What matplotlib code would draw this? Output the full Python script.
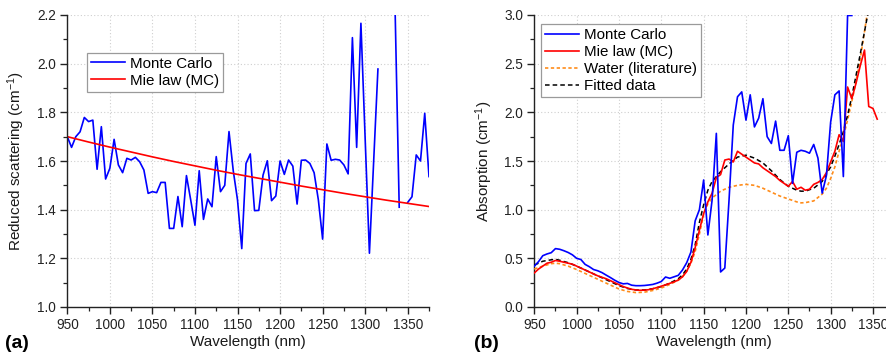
import numpy as np
import matplotlib
matplotlib.use("Agg")
import matplotlib.pyplot as plt
from matplotlib.ticker import MultipleLocator, FormatStrFormatter

plt.rcParams['font.family'] = ['Liberation Sans', 'DejaVu Sans']
plt.rcParams['mathtext.fontset'] = 'custom'
plt.rcParams['mathtext.rm'] = 'Liberation Sans'
plt.rcParams['mathtext.it'] = 'Liberation Sans'
plt.rcParams['mathtext.bf'] = 'Liberation Sans:bold'

nan = np.nan

# ---------------- Panel (a): reduced scattering ----------------
wl_a = [950, 955, 960, 965, 970, 975, 980, 985, 990, 995,
        1000, 1005, 1010, 1015, 1020, 1025, 1030, 1035, 1040, 1045,
        1050, 1055, 1060, 1065, 1070, 1075, 1080, 1085, 1090, 1095,
        1100, 1105, 1110, 1115, 1120, 1125, 1130, 1135, 1140, 1145,
        1150, 1155, 1160, 1165, 1170, 1175, 1180, 1185, 1190, 1195,
        1200, 1205, 1210, 1215, 1220, 1225, 1230, 1235, 1240, 1245,
        1250, 1255, 1260, 1265, 1270, 1275, 1280, 1285, 1290, 1295,
        1300, 1305, 1310, 1315, 1320, 1325, 1330, 1335, 1340, 1345,
        1350, 1355, 1360, 1365, 1370, 1375]
mc_scat = [1.700, 1.656, 1.700, 1.720, 1.779, 1.762, 1.768, 1.566, 1.741, 1.526,
           1.570, 1.689, 1.584, 1.552, 1.611, 1.604, 1.615, 1.597, 1.563, 1.467,
           1.474, 1.470, 1.512, 1.512, 1.323, 1.323, 1.454, 1.330, 1.540, 1.440,
           1.336, 1.560, 1.360, 1.444, 1.412, 1.618, 1.474, 1.500, 1.721, 1.560,
           1.440, 1.240, 1.590, 1.629, 1.396, 1.397, 1.542, 1.601, 1.437, 1.456,
           1.600, 1.545, 1.604, 1.579, 1.423, 1.603, 1.604, 1.590, 1.552, 1.440,
           1.279, 1.670, 1.603, 1.607, 1.604, 1.584, 1.547, 2.107, 1.656, 2.166,
           1.690, 1.221, 1.600, 1.978, nan, nan, nan, 2.250, 1.410, nan,
           1.430, 1.453, 1.625, 1.600, 1.796, 1.536]

mie_wl_a = [950, 975, 1000, 1025, 1050, 1075, 1100, 1125, 1150, 1175,
            1200, 1225, 1250, 1275, 1300, 1325, 1350, 1375]
mie_scat = [1.700, 1.678, 1.657, 1.637, 1.617, 1.598, 1.580, 1.562, 1.545, 1.529,
            1.513, 1.497, 1.482, 1.467, 1.453, 1.439, 1.426, 1.413]

# ---------------- Panel (b): absorption ----------------
wl_mc_b = [950, 955, 960, 965, 970, 975, 980, 985, 990, 995,
           1000, 1005, 1010, 1015, 1020, 1025, 1030, 1035, 1040, 1045,
           1050, 1055, 1060, 1065, 1070, 1075, 1080, 1085, 1090, 1095,
           1100, 1105, 1110, 1115, 1120, 1125, 1130, 1135, 1140, 1145,
           1150, 1155, 1160, 1165, 1170, 1175, 1180, 1185, 1190, 1195,
           1200, 1205, 1210, 1215, 1220, 1225, 1230, 1235, 1240, 1245,
           1250, 1255, 1260, 1265, 1270, 1275, 1280, 1285, 1290, 1295,
           1300, 1305, 1310, 1315, 1320, 1325]
mc_abs = [0.420, 0.466, 0.527, 0.545, 0.558, 0.600, 0.593, 0.578, 0.560, 0.536,
          0.500, 0.488, 0.438, 0.414, 0.385, 0.372, 0.353, 0.327, 0.302, 0.275,
          0.252, 0.238, 0.242, 0.224, 0.219, 0.219, 0.221, 0.226, 0.232, 0.245,
          0.262, 0.308, 0.295, 0.310, 0.325, 0.380, 0.455, 0.565, 0.885, 1.000,
          1.305, 0.740, 1.100, 1.784, 0.360, 0.400, 1.100, 1.870, 2.160, 2.210,
          1.920, 2.180, 1.850, 1.940, 2.140, 1.750, 1.680, 1.910, 1.610, 1.610,
          1.760, 1.270, 1.590, 1.610, 1.600, 1.580, 1.670, 1.530, 1.170, 1.350,
          1.900, 2.180, 2.220, 1.340, 2.995, 2.995]

wl_mie_b = [950, 955, 960, 965, 970, 975, 980, 985, 990, 995,
            1000, 1005, 1010, 1015, 1020, 1025, 1030, 1035, 1040, 1045,
            1050, 1055, 1060, 1065, 1070, 1075, 1080, 1085, 1090, 1095,
            1100, 1105, 1110, 1115, 1120, 1125, 1130, 1135, 1140, 1145,
            1150, 1155, 1160, 1165, 1170, 1175, 1180, 1185, 1190, 1195,
            1200, 1205, 1210, 1215, 1220, 1225, 1230, 1235, 1240, 1245,
            1250, 1255, 1260, 1265, 1270, 1275, 1280, 1285, 1290, 1295,
            1300, 1305, 1310, 1315, 1320, 1325, 1330, 1335, 1340, 1345,
            1350, 1355]
mie_abs = [0.350, 0.390, 0.420, 0.450, 0.460, 0.478, 0.470, 0.460, 0.450, 0.440,
           0.420, 0.400, 0.380, 0.360, 0.340, 0.320, 0.305, 0.290, 0.270, 0.250,
           0.230, 0.210, 0.195, 0.182, 0.175, 0.172, 0.173, 0.178, 0.188, 0.200,
           0.214, 0.228, 0.243, 0.258, 0.277, 0.310, 0.365, 0.460, 0.610, 0.790,
           0.960, 1.080, 1.170, 1.330, 1.360, 1.510, 1.520, 1.490, 1.600, 1.570,
           1.540, 1.510, 1.480, 1.470, 1.430, 1.400, 1.370, 1.340, 1.300, 1.270,
           1.240, 1.290, 1.210, 1.230, 1.200, 1.210, 1.260, 1.280, 1.310, 1.380,
           1.490, 1.600, 1.770, 1.700, 2.260, 2.140, 2.300, 2.480, 2.640, 2.060,
           2.040, 1.930]

wl_water = [950, 960, 970, 975, 980, 990, 1000, 1010, 1020, 1030,
            1040, 1050, 1060, 1070, 1080, 1090, 1100, 1110, 1120, 1125,
            1130, 1135, 1140, 1145, 1150, 1155, 1160, 1170, 1180, 1190,
            1200, 1210, 1220, 1230, 1240, 1250, 1260, 1265, 1270, 1280,
            1290, 1295, 1300, 1305, 1310, 1315, 1320, 1325, 1330, 1335,
            1340, 1345]
water_abs = [0.390, 0.420, 0.445, 0.450, 0.445, 0.420, 0.385, 0.345, 0.305, 0.265,
             0.225, 0.185, 0.160, 0.148, 0.152, 0.170, 0.195, 0.232, 0.275, 0.310,
             0.370, 0.450, 0.570, 0.750, 0.950, 1.060, 1.120, 1.190, 1.230, 1.250,
             1.260, 1.250, 1.220, 1.180, 1.140, 1.110, 1.080, 1.070, 1.072, 1.090,
             1.160, 1.220, 1.320, 1.440, 1.600, 1.750, 1.920, 2.110, 2.320, 2.550,
             2.830, 3.120]

wl_fit = [950, 960, 970, 975, 980, 990, 1000, 1010, 1020, 1030,
          1040, 1050, 1060, 1070, 1080, 1090, 1100, 1110, 1120, 1125,
          1130, 1135, 1140, 1145, 1150, 1155, 1160, 1170, 1180, 1190,
          1200, 1210, 1220, 1230, 1240, 1250, 1260, 1265, 1270, 1280,
          1290, 1300, 1305, 1310, 1315, 1320, 1325, 1330, 1335, 1340,
          1345]
fit_abs = [0.430, 0.470, 0.485, 0.490, 0.480, 0.455, 0.420, 0.380, 0.340, 0.300,
           0.260, 0.220, 0.190, 0.175, 0.175, 0.188, 0.210, 0.245, 0.290, 0.330,
           0.390, 0.490, 0.640, 0.870, 1.050, 1.200, 1.290, 1.390, 1.470, 1.540,
           1.560, 1.530, 1.480, 1.400, 1.310, 1.240, 1.200, 1.190, 1.190, 1.220,
           1.290, 1.440, 1.550, 1.670, 1.800, 1.970, 2.160, 2.380, 2.600, 2.830,
           3.060]

# ---------------- Figure ----------------
W, H = 887, 356
fig = plt.figure(figsize=(W / 100, H / 100), dpi=100)

def px_axes(left, top, right, bottom):
    return fig.add_axes([left / W, 1 - bottom / H, (right - left) / W, (bottom - top) / H])

ax1 = px_axes(67.3, 15, 429, 307)
ax2 = px_axes(534.3, 15, 534.3 + 425 * 0.8467, 307)

BLUE = '#0000FF'
RED = '#FF0000'
ORANGE = '#FF8C1A'
GRID = '#CFCFCF'
TXT = '#1A1A1A'

def style(ax, ylim, ymaj, ymin):
    ax.set_xlim(950, 1375)
    ax.set_ylim(*ylim)
    ax.xaxis.set_major_locator(MultipleLocator(50))
    ax.xaxis.set_minor_locator(MultipleLocator(25))
    ax.yaxis.set_major_locator(MultipleLocator(ymaj))
    ax.yaxis.set_minor_locator(MultipleLocator(ymin))
    ax.yaxis.set_major_formatter(FormatStrFormatter('%.1f'))
    for s in ('top', 'right'):
        ax.spines[s].set_visible(False)
    for s in ('left', 'bottom'):
        ax.spines[s].set_linewidth(1.0)
        ax.spines[s].set_color('#222222')
    ax.tick_params(which='major', direction='out', length=5, width=1.0,
                   labelsize=9.8, colors='#222222', pad=3)
    ax.tick_params(which='minor', direction='out', length=3, width=0.9, colors='#222222')
    ax.grid(True, which='major', linestyle=(0, (1, 2)), color=GRID, linewidth=0.8)
    ax.set_axisbelow(True)
    ax.set_xlabel('Wavelength (nm)', fontsize=11, color=TXT)
    ax.xaxis.set_label_coords(0.5, -0.095)

leg_kw = dict(borderaxespad=0, fontsize=10.9, handlelength=2.25, handletextpad=0.33,
              labelspacing=0.2, borderpad=0.25, fancybox=False, framealpha=1,
              edgecolor='#9A9A9A')

# Panel (a)
style(ax1, (1.0, 2.2), 0.2, 0.1)
ax1.plot(wl_a, mc_scat, color=BLUE, lw=1.2, label='Monte Carlo')
ax1.plot(mie_wl_a, mie_scat, color=RED, lw=1.2, label='Mie law (MC)')
ax1.set_ylabel(r'Reduced scattering (cm$^{-1}$)', fontsize=11, color=TXT)
ax1.yaxis.set_label_coords(-0.112, 0.5)
leg1 = ax1.legend(loc='upper left', bbox_to_anchor=(0.054, 0.87), **leg_kw)
leg1.get_frame().set_linewidth(0.9)

# Panel (b)
style(ax2, (0.0, 3.0), 0.5, 0.25)
ax2.plot(wl_water, water_abs, color=ORANGE, lw=1.2, linestyle=(0, (2, 1.5)),
         label='Water (literature)', zorder=3)
ax2.plot(wl_fit, fit_abs, color='black', lw=1.1, linestyle=(0, (3, 2)),
         label='Fitted data', zorder=4)
ax2.plot(wl_mie_b, mie_abs, color=RED, lw=1.2, label='Mie law (MC)', zorder=5)
ax2.plot(wl_mc_b, mc_abs, color=BLUE, lw=1.2, label='Monte Carlo', zorder=6)
ax2.set_ylabel(r'Absorption (cm$^{-1}$)', fontsize=11, color=TXT)
ax2.yaxis.set_label_coords(-0.109, 0.5)
h, l = ax2.get_legend_handles_labels()
order = ['Monte Carlo', 'Mie law (MC)', 'Water (literature)', 'Fitted data']
hh = [h[l.index(o)] for o in order]
leg2 = ax2.legend(hh, order, loc='upper left', bbox_to_anchor=(0.0186, 0.969), **leg_kw)
leg2.get_frame().set_linewidth(0.9)

fig.text(5 / W, 1 - 344 / H, '(a)', fontsize=14, fontweight='bold', va='center', ha='left')
fig.text(474 / W, 1 - 344 / H, '(b)', fontsize=14, fontweight='bold', va='center', ha='left')

fig.savefig('out.png', dpi=100)
